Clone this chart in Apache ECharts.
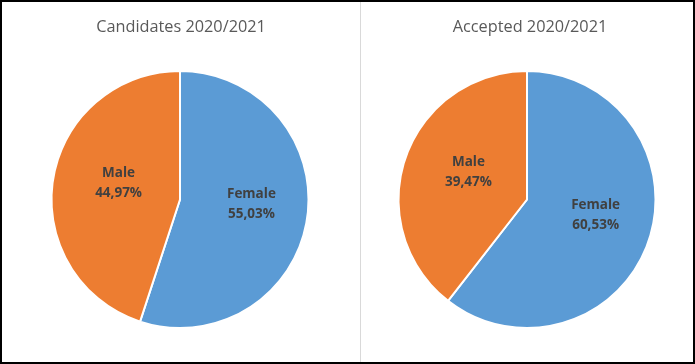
<!DOCTYPE html>
<html><head><meta charset="utf-8">
<script src="https://cdn.jsdelivr.net/npm/echarts@6/dist/echarts.min.js"></script>
<style>
html,body{margin:0;padding:0;background:#fff;}
#c{width:695px;height:364px;box-sizing:border-box;border:2px solid #000;}
</style></head><body>
<div id="c"></div>
<script>
const titles = ['Candidates 2020/2021', 'Accepted 2020/2021'];
const categories = ['Female', 'Male'];
const candidates = [55.03, 44.97];
const accepted = [60.53, 39.47];
const colors = ['#5b9bd5', '#ed7d31'];

const chart = echarts.init(document.getElementById('c'));
function mk(vals, cx) {
  return {
    type: 'pie',
    center: [cx, 197.5],
    radius: 128.5,
    startAngle: 90,
    clockwise: true,
    animation: false,
    silent: true,
    itemStyle: { borderColor: '#fff', borderWidth: 2 },
    label: {
      show: true, position: 'inside',
      fontFamily: 'Open Sans', fontWeight: 'bold', fontSize: 13.5, color: '#404040',
      lineHeight: 20,
      formatter: p => p.name + '\n' + p.value.toFixed(2).replace('.', ',') + '%'
    },
    labelLayout: p => ({ dy: -6, dx: 5 }),
    data: categories.map((n, i) => ({ name: n, value: vals[i], itemStyle: { color: colors[i] } }))
  };
}
const tStyle = { fontFamily: 'Open Sans', fontWeight: 'normal', fontSize: 16.3, color: '#595959' };
chart.setOption({
  title: [
    { text: titles[0], left: 174, top: 12, textAlign: 'center', textStyle: tStyle },
    { text: titles[1], left: 523, top: 12, textAlign: 'center', textStyle: tStyle }
  ],
  graphic: [{ type: 'line', shape: { x1: 358.5, y1: 0, x2: 358.5, y2: 360 }, style: { stroke: '#d9d9d9', lineWidth: 1 } }],
  series: [mk(candidates, 178), mk(accepted, 525)]
});
</script></body></html>
